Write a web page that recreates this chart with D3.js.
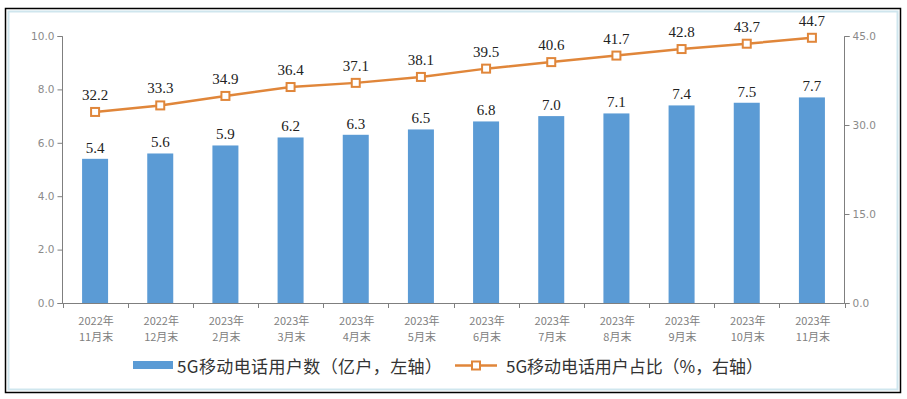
<!DOCTYPE html>
<html><head><meta charset="utf-8">
<script src="https://cdn.jsdelivr.net/npm/d3@7"></script>
<style>body{margin:0;background:#fff}svg{display:block}</style>
</head><body><svg id="c" width="907" height="399"></svg>
<script>
const catYears = ["2022年","2022年","2023年","2023年","2023年","2023年","2023年","2023年","2023年","2023年","2023年","2023年"];
const catMonths = ["11月末","12月末","2月末","3月末","4月末","5月末","6月末","7月末","8月末","9月末","10月末","11月末"];
const users = [5.4,5.6,5.9,6.2,6.3,6.5,6.8,7.0,7.1,7.4,7.5,7.7];
const share = [32.2,33.3,34.9,36.4,37.1,38.1,39.5,40.6,41.7,42.8,43.7,44.7];
const leftTicks = [0,2,4,6,8,10];
const rightTicks = [0,15,30,45];
const legendLabels = ["5G移动电话用户数（亿户，左轴）","5G移动电话用户占比（%，右轴）"];

const svg = d3.select("#c");
const barColor = "#5B9BD5", lineColor = "#E0863A";
const cjk = "'Noto Sans CJK SC', sans-serif";
const serif = "'Liberation Serif', 'Times New Roman', serif";

// frame
svg.append("rect").attr("x",5.5).attr("y",8.5).attr("width",895).attr("height",384).attr("fill","#fff").attr("stroke","#000").attr("stroke-width",1.5);
svg.append("rect").attr("x",8.5).attr("y",11.5).attr("width",889).attr("height",378).attr("fill","none").attr("stroke","#cfe6ee").attr("stroke-width",2);

const L = 62.5, R = 844.5, T = 36, B = 303;
const xb = d3.scaleBand().domain(d3.range(12)).range([L,R]);
const yL = d3.scaleLinear().domain([0,10]).range([B,T]);
const yR = d3.scaleLinear().domain([0,45]).range([B,T]);

// bars
svg.selectAll(".bar").data(users).enter().append("rect")
  .attr("x",(d,i)=>xb(i)+xb.bandwidth()/2-13).attr("width",26)
  .attr("y",d=>yL(d)).attr("height",d=>B-yL(d)).attr("fill",barColor);
svg.selectAll(".bl").data(users).enter().append("text")
  .attr("x",(d,i)=>xb(i)+xb.bandwidth()/2).attr("y",d=>yL(d)-6)
  .attr("text-anchor","middle").attr("font-family",serif).attr("font-size",15).attr("fill","#222")
  .text(d=>d.toFixed(1));

// axes
const axL = svg.append("g").attr("transform",`translate(${L},0)`).call(d3.axisLeft(yL).tickValues(leftTicks).tickSize(5).tickFormat(d3.format(".1f")));
const axR = svg.append("g").attr("transform",`translate(${R},0)`).call(d3.axisRight(yR).tickValues(rightTicks).tickSize(5).tickFormat(d3.format(".1f")));
[axL,axR].forEach(a=>{a.select(".domain").attr("stroke","#7f7f7f").attr("d", a===axL? `M-5,${T+0.5}H0V${B+0.5}H-5` : `M5,${T+0.5}H0V${B+0.5}H5`);
  a.selectAll(".tick line").attr("stroke","#7f7f7f");
  a.selectAll(".tick text").attr("fill","#8a8a8a").attr("font-family","'DejaVu Sans', sans-serif").attr("font-size",10.5);});
// x axis
const gx = svg.append("g");
gx.append("line").attr("x1",L).attr("x2",R).attr("y1",B+0.5).attr("y2",B+0.5).attr("stroke","#7f7f7f");
gx.selectAll(".xt").data(d3.range(13)).enter().append("line")
  .attr("x1",i=>Math.round(L+i*xb.step())+0.5).attr("x2",i=>Math.round(L+i*xb.step())+0.5)
  .attr("y1",B).attr("y2",B+5).attr("stroke","#7f7f7f");
const xl = gx.selectAll(".xl").data(d3.range(12)).enter().append("text")
  .attr("text-anchor","middle").attr("font-family",cjk).attr("font-size",11).attr("fill","#808080");
xl.append("tspan").attr("x",i=>xb(i)+xb.bandwidth()/2+1).attr("y",325).text(i=>catYears[i]);
xl.append("tspan").attr("x",i=>xb(i)+xb.bandwidth()/2+1).attr("y",341).text(i=>catMonths[i]);

// line
const cx = i=>xb(i)+xb.bandwidth()/2;
svg.append("path").datum(share).attr("fill","none").attr("stroke",lineColor).attr("stroke-width",2.5)
  .attr("d",d3.line().x((d,i)=>cx(i)).y(d=>yR(d)));
svg.selectAll(".mk").data(share).enter().append("rect")
  .attr("x",(d,i)=>cx(i)-4).attr("y",d=>yR(d)-4).attr("width",8).attr("height",8)
  .attr("fill","#fff").attr("stroke",lineColor).attr("stroke-width",2);
svg.selectAll(".ll").data(share).enter().append("text")
  .attr("x",(d,i)=>cx(i)).attr("y",d=>yR(d)-12)
  .attr("text-anchor","middle").attr("font-family",serif).attr("font-size",15).attr("fill","#222")
  .text(d=>d.toFixed(1));

// legend
const lg = svg.append("g").attr("font-family",cjk).attr("font-size",17).attr("fill","#333");
lg.append("rect").attr("x",133).attr("y",361).attr("width",40).attr("height",8).attr("fill",barColor);
lg.append("text").attr("x",177).attr("y",373).attr("textLength",265).attr("lengthAdjust","spacing").text(legendLabels[0]);
lg.append("line").attr("x1",455).attr("x2",497).attr("y1",365.5).attr("y2",365.5).attr("stroke",lineColor).attr("stroke-width",2.5);
lg.append("rect").attr("x",472).attr("y",361.5).attr("width",8).attr("height",8).attr("fill","#fff").attr("stroke",lineColor).attr("stroke-width",2);
lg.append("text").attr("x",506).attr("y",373).attr("textLength",257).attr("lengthAdjust","spacing").text(legendLabels[1]);
</script></body></html>
